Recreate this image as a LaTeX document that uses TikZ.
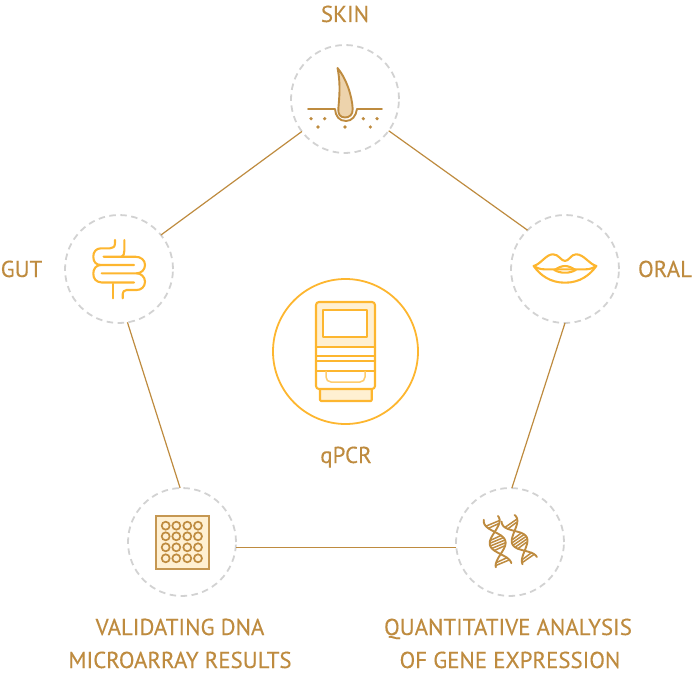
\documentclass[tikz,border=0pt]{standalone}
\usepackage{fontspec}
\setmainfont[FakeStretch=0.995,FakeBold=0.25]{PT Sans}
\definecolor{gold}{HTML}{BE8B3F}
\definecolor{amber}{HTML}{FDB62F}
\definecolor{ringgray}{HTML}{D2D2D2}
\definecolor{creamy}{HTML}{FFF0D2}
\definecolor{skinfill}{HTML}{EDD3AC}
\tikzset{
  ring/.style={circle,draw=ringgray,line width=1.8pt,dash pattern=on 6.5pt off 4.5pt,minimum size=108pt,inner sep=0pt,outer sep=0pt},
  link/.style={draw=gold,line width=1.2pt},
  lab/.style={text=gold,font=\fontsize{23}{23}\selectfont,inner sep=0pt,anchor=base},
  goldline/.style={draw=gold,line width=1.9pt,line cap=round,line join=round},
  amberline/.style={draw=amber,line width=2.1pt,line cap=round,line join=round}
}
\newcommand{\helix}[3]{%
  \begin{scope}[shift={(#1)},rotate=#2]
    \draw[goldline] plot[domain=-3:#3,samples=40,smooth] ({8*cos(360/#3*\x)},\x);
    \draw[goldline] plot[domain=-3:#3,samples=40,smooth] ({-8*cos(360/#3*\x)},\x);
    \foreach \s in {0.06,0.12,0.38,0.44,0.5,0.56,0.62,0.88,0.94}{
      \pgfmathsetmacro{\yy}{\s*#3}
      \pgfmathsetmacro{\aa}{abs(8*cos(360*\s))}
      \draw[draw=gold,line width=1.5pt] ({-\aa},\yy+1) -- ({\aa},\yy-1);
    }
  \end{scope}}
\begin{document}
\begin{tikzpicture}[x=1pt,y=-1pt]
\useasboundingbox (0,0) rectangle (694,674);
% rings
\node[ring] (skin) at (345,99) {};
\node[ring] (oral) at (565,269) {};
\node[ring] (quant) at (510,542) {};
\node[ring] (micro) at (182,542) {};
\node[ring] (gut) at (119,269) {};
\node[circle,draw=amber,line width=1.8pt,minimum size=145pt,inner sep=0pt,outer sep=0pt] (qpcr) at (345.5,351.5) {};
% connectors
\draw[link] (skin.217.5) -- (gut.39.8);
\draw[link] (skin.-36.7) -- (oral.134);
\draw[link] (oral.-90) -- (quant.88);
\draw[link] (quant.186.9) -- (micro.-6.9);
\draw[link] (micro.92) -- (gut.-81.6);
% labels
\node[lab] (tskin) at (345,22) {SKIN};
\node[lab] (toral) at (665,277) {ORAL};
\node[lab] (tgut) at (21.5,277) {GUT};
\node[lab] (tq) at (346,463) {qPCR};
\node[lab] (tm1) at (180,635) {VALIDATING DNA};
\node[lab] (tm2) at (180,668) {MICROARRAY RESULTS};
\node[lab] (tq1) at (508,635) {QUANTITATIVE ANALYSIS};
\node[lab] (tq2) at (510,668) {OF GENE EXPRESSION};
% skin icon
\draw[goldline,fill=skinfill] (337.5,68) .. controls (346,78) and (352,95) .. (352.7,109)
  .. controls (353,115) and (349,117.5) .. (345,117.5)
  .. controls (340,117.5) and (338,114) .. (338.3,109)
  .. controls (339,100) and (341,85) .. (337.5,68) -- cycle;
\draw[goldline] (308,109) -- (335,109) .. controls (335.5,116) and (339,121) .. (346,121)
  .. controls (352,121) and (356,116) .. (357,109) -- (382,109);
\foreach \p in {(311,118.7),(324.7,118.7),(363.3,118.7),(377,118.7),(318,127),(345,127),(370.3,127)}
  \fill[gold] \p circle (1.8);
% qPCR icon
\fill[creamy,rounded corners=3] (316,347.3) -- (316,302) -- (375,302) -- (375,347.3) -- cycle;
\draw[amberline,fill=creamy] (320,389.7) -- (320,400) -- (321,401) -- (371,401) -- (371.7,400) -- (371.7,389.7);
\draw[amberline,fill=white,rounded corners=3] (316,347.3) -- (316,389) -- (375,389) -- (375,347.3);
\draw[amberline,rounded corners=3] (316,347.3) -- (316,302) -- (375,302) -- (375,347.3);
\draw[amberline,fill=white] (323.3,309.7) rectangle (367.3,337);
\draw[amberline] (316,347.3) -- (375,347.3) (316,355.7) -- (375,355.7) (316,360.7) -- (375,360.7) (316,371.3) -- (375,371.3);
\draw[amberline,draw=amber!70,line width=1.5pt,rounded corners=5] (326,371.3) -- (326,382) -- (365,382) -- (365,371.3);
% gut icon
\begin{scope}[amberline]
\draw (115,240) -- (115,243) .. controls (115,247) and (113,248.3) .. (110,248.3) -- (101,248.3)
  .. controls (96,248.3) and (93.3,252) .. (93.3,256.5) .. controls (93.3,262) and (96,265) .. (101,265) -- (134,265);
\draw (101,265) .. controls (96,265) and (93.3,269) .. (93.3,273.5) .. controls (93.3,279) and (96,282) .. (101.7,282.5) -- (134,282.5);
\draw (124.3,240) -- (124.3,251) .. controls (124.3,254) and (123.5,256) .. (121.7,256.7);
\draw (103.5,256.7) -- (135,256.7) .. controls (141,256.7) and (145,260) .. (145,265)
  .. controls (145,270) and (141,273.3) .. (136.7,273.3) -- (101.7,273.3);
\draw (136.7,273.3) .. controls (141,273.3) and (145,277) .. (145,281.7)
  .. controls (145,287) and (141,290) .. (136.7,290) -- (126.7,290)
  .. controls (124,290) and (122.7,292) .. (122.7,294) -- (122.7,298.3);
\draw (113.3,284) -- (113.3,298.3);
\end{scope}
% lips icon
\begin{scope}[amberline]
\draw (533.7,266) .. controls (541,264) and (546,254.3) .. (553,254.3)
  .. controls (559,254.3) and (561,261) .. (565,261) .. controls (569,261) and (571,254.3) .. (576,254.3)
  .. controls (584,254.3) and (589,264) .. (596.3,266)
  .. controls (590,275) and (580,282.7) .. (565,282.7) .. controls (550,282.7) and (540,275) .. (533.7,266) -- cycle;
\draw (533.7,266) .. controls (537,268) and (540,269.3) .. (544,269.3) -- (586,269.3) .. controls (590,269.3) and (593,268) .. (596.3,266);
\draw (554.3,270) .. controls (558,268) and (561,266) .. (565,266) .. controls (569,266) and (572,268) .. (575.7,270)
  .. controls (572,272) and (569,272.7) .. (565,272.7) .. controls (561,272.7) and (558,272) .. (554.3,270) -- cycle;
\end{scope}
% microarray icon
\draw[draw=gold!90,line width=2pt,fill=creamy] (155.5,515.5) rectangle (208.5,568.5);
\foreach \x in {165.7,176.3,187.3,198}
  \foreach \y in {525.7,536.3,547.3,558.3}
    \draw[draw=gold,line width=1.7pt] (\x,\y) circle (4);
% DNA icon
\helix{491.7,520.8}{15}{46}
\helix{509.5,521}{27}{44.5}
\end{tikzpicture}
\end{document}
